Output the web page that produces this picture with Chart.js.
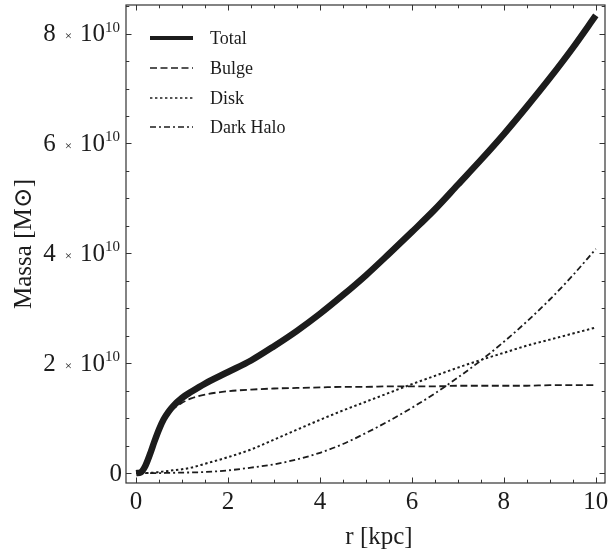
<!DOCTYPE html>
<html>
<head>
<meta charset="utf-8">
<script src="https://cdn.jsdelivr.net/npm/chart.js"></script>
<style>
  html, body { margin: 0; padding: 0; background: #fff; }
  #wrap { width: 608px; height: 558px; }
</style>
</head>
<body>
<div id="wrap"><canvas id="grafico" width="608" height="558"></canvas></div>
<script>
// raio em kpc
const raio = [0, 0.1, 0.2, 0.3, 0.4, 0.5, 0.6, 0.7, 0.8, 1, 1.2, 1.5, 2, 2.5, 3, 3.5, 4, 4.5, 5, 5.5, 6, 6.5, 7, 7.5, 8, 8.5, 9, 9.5, 10];
// massas em unidades de 10^10 M_sol
const massaTotal = [0, 0.015, 0.13, 0.34, 0.58, 0.80, 0.98, 1.11, 1.215, 1.37, 1.48, 1.63, 1.84, 2.05, 2.31, 2.59, 2.90, 3.24, 3.60, 3.99, 4.39, 4.80, 5.25, 5.70, 6.17, 6.67, 7.19, 7.74, 8.33];
const massaBulge = [0, 0.015, 0.13, 0.34, 0.57, 0.78, 0.95, 1.07, 1.16, 1.28, 1.36, 1.43, 1.49, 1.52, 1.54, 1.55, 1.56, 1.57, 1.57, 1.58, 1.58, 1.58, 1.59, 1.59, 1.59, 1.59, 1.60, 1.60, 1.60];
const massaDisco = [0, 0, 0.002, 0.005, 0.01, 0.02, 0.03, 0.04, 0.05, 0.07, 0.10, 0.17, 0.29, 0.43, 0.61, 0.79, 0.97, 1.14, 1.30, 1.46, 1.62, 1.77, 1.92, 2.06, 2.19, 2.32, 2.43, 2.54, 2.65];
const massaHalo = [0, 0, 0, 0, 0, 0, 0.002, 0.003, 0.005, 0.01, 0.012, 0.02, 0.05, 0.10, 0.16, 0.25, 0.37, 0.53, 0.73, 0.95, 1.19, 1.45, 1.74, 2.05, 2.39, 2.76, 3.16, 3.60, 4.08];

const ticksX = [0, 2, 4, 6, 8, 10];
const ticksY = [0, 2, 4, 6, 8];
const nomes = ['Total', 'Bulge', 'Disk', 'Dark Halo'];

const serif = '"Liberation Serif", "DejaVu Serif", serif';
const cor = '#1c1c1c';

function pontos(ys) {
    return raio.map((r, i) => ({ x: r, y: ys[i] }));
}

const estilos = [
    { width: 6.5, dash: [] },
    { width: 1.8, dash: [7, 3.5] },
    { width: 2, dash: [2.4, 2.6] },
    { width: 1.8, dash: [6, 3, 2, 3] }
];

// moldura, ticks, rótulos e legenda desenhados por cima
const moldura = {
    id: 'moldura',
    afterDraw(chart) {
        const ctx = chart.ctx;
        const a = chart.chartArea;
        const sx = chart.scales.x, sy = chart.scales.y;
        ctx.save();
        ctx.strokeStyle = '#333';
        ctx.lineWidth = 1.2;
        ctx.strokeRect(a.left, a.top, a.right - a.left, a.bottom - a.top);

        ctx.lineWidth = 1;
        for (let v = 0; v <= 10.001; v += 0.5) {
            const px = Math.round(sx.getPixelForValue(v)) + 0.5;
            const len = Math.abs(v % 2) < 0.01 ? 5.5 : 3.3;
            ctx.beginPath();
            ctx.moveTo(px, a.bottom); ctx.lineTo(px, a.bottom - len);
            ctx.moveTo(px, a.top); ctx.lineTo(px, a.top + len);
            ctx.stroke();
        }
        for (let v = 0; v <= 8.501; v += 0.5) {
            const py = Math.round(sy.getPixelForValue(v)) + 0.5;
            const len = Math.abs(v % 2) < 0.01 ? 5.5 : 3.3;
            ctx.beginPath();
            ctx.moveTo(a.left, py); ctx.lineTo(a.left + len, py);
            ctx.moveTo(a.right, py); ctx.lineTo(a.right - len, py);
            ctx.stroke();
        }

        ctx.fillStyle = cor;
        // rótulos do eixo x
        ctx.font = '25px ' + serif;
        ctx.textAlign = 'center';
        ctx.textBaseline = 'middle';
        ticksX.forEach(v => {
            ctx.fillText(String(v), sx.getPixelForValue(v), 502);
        });

        // rótulos do eixo y  (n x 10^10)
        ticksY.forEach(v => {
            const py = sy.getPixelForValue(v);
            ctx.textAlign = 'left';
            ctx.textBaseline = 'middle';
            if (v === 0) {
                ctx.font = '25px ' + serif;
                ctx.textAlign = 'right';
                ctx.fillText('0', 122, py + 1);
                return;
            }
            ctx.font = '15px ' + serif;
            const wSup = ctx.measureText('10').width;
            ctx.font = '25px ' + serif;
            const wBig = ctx.measureText('10').width;
            const wDig = ctx.measureText(String(v)).width;
            ctx.font = '13px ' + serif;
            const wX = ctx.measureText('\u00d7').width;
            const supX = 120 - wSup;
            const bigX = supX - wBig;
            const xX = bigX - 8 - wX;
            const digX = xX - 9 - wDig;
            ctx.font = '25px ' + serif;
            ctx.fillText(String(v), digX, py + 1);
            ctx.fillText('10', bigX, py + 1);
            ctx.font = '13px ' + serif;
            ctx.fillText('\u00d7', xX, py + 3);
            ctx.font = '15px ' + serif;
            ctx.fillText('10', supX, py - 6);
        });

        // títulos dos eixos
        ctx.font = '25px ' + serif;
        ctx.textAlign = 'center';
        ctx.textBaseline = 'middle';
        ctx.fillText('r [kpc]', 379, 537);
        ctx.save();
        ctx.translate(24, (a.top + a.bottom) / 2);
        ctx.rotate(-Math.PI / 2);
        ctx.fillText('Massa [M\u2299]', 0, 0);
        ctx.restore();

        // legenda
        const linhas = [38, 68, 98, 127];
        ctx.font = '18px ' + serif;
        ctx.textAlign = 'left';
        nomes.forEach((nome, i) => {
            const y = linhas[i];
            ctx.beginPath();
            ctx.strokeStyle = cor;
            ctx.lineWidth = i === 0 ? 4 : 1.5;
            ctx.setLineDash(estilos[i].dash);
            ctx.moveTo(150, y); ctx.lineTo(193, y);
            ctx.stroke();
            ctx.setLineDash([]);
            ctx.fillText(nome, 210, y + 1);
        });
        ctx.restore();
    }
};

const series = [massaTotal, massaBulge, massaDisco, massaHalo];

new Chart(document.getElementById('grafico'), {
    type: 'line',
    data: {
        datasets: series.map((s, i) => ({
            label: nomes[i],
            data: pontos(s),
            borderColor: cor,
            borderWidth: estilos[i].width,
            borderDash: estilos[i].dash,
            borderCapStyle: 'butt',
            pointRadius: 0,
            fill: false,
            cubicInterpolationMode: 'monotone',
            order: 4 - i
        }))
    },
    options: {
        responsive: false,
        animation: false,
        layout: { padding: { left: 0, right: 3, top: 5, bottom: 0 } },
        plugins: {
            legend: { display: false },
            tooltip: { enabled: false }
        },
        scales: {
            x: {
                type: 'linear',
                min: -0.22,
                max: 10.2,
                grid: { display: false },
                border: { display: false },
                ticks: { display: false },
                afterFit(scale) { scale.height = 75; }
            },
            y: {
                type: 'linear',
                min: -0.18,
                max: 8.52,
                grid: { display: false },
                border: { display: false },
                ticks: { display: false },
                afterFit(scale) { scale.width = 126; }
            }
        }
    },
    plugins: [moldura]
});
</script>
</body>
</html>
